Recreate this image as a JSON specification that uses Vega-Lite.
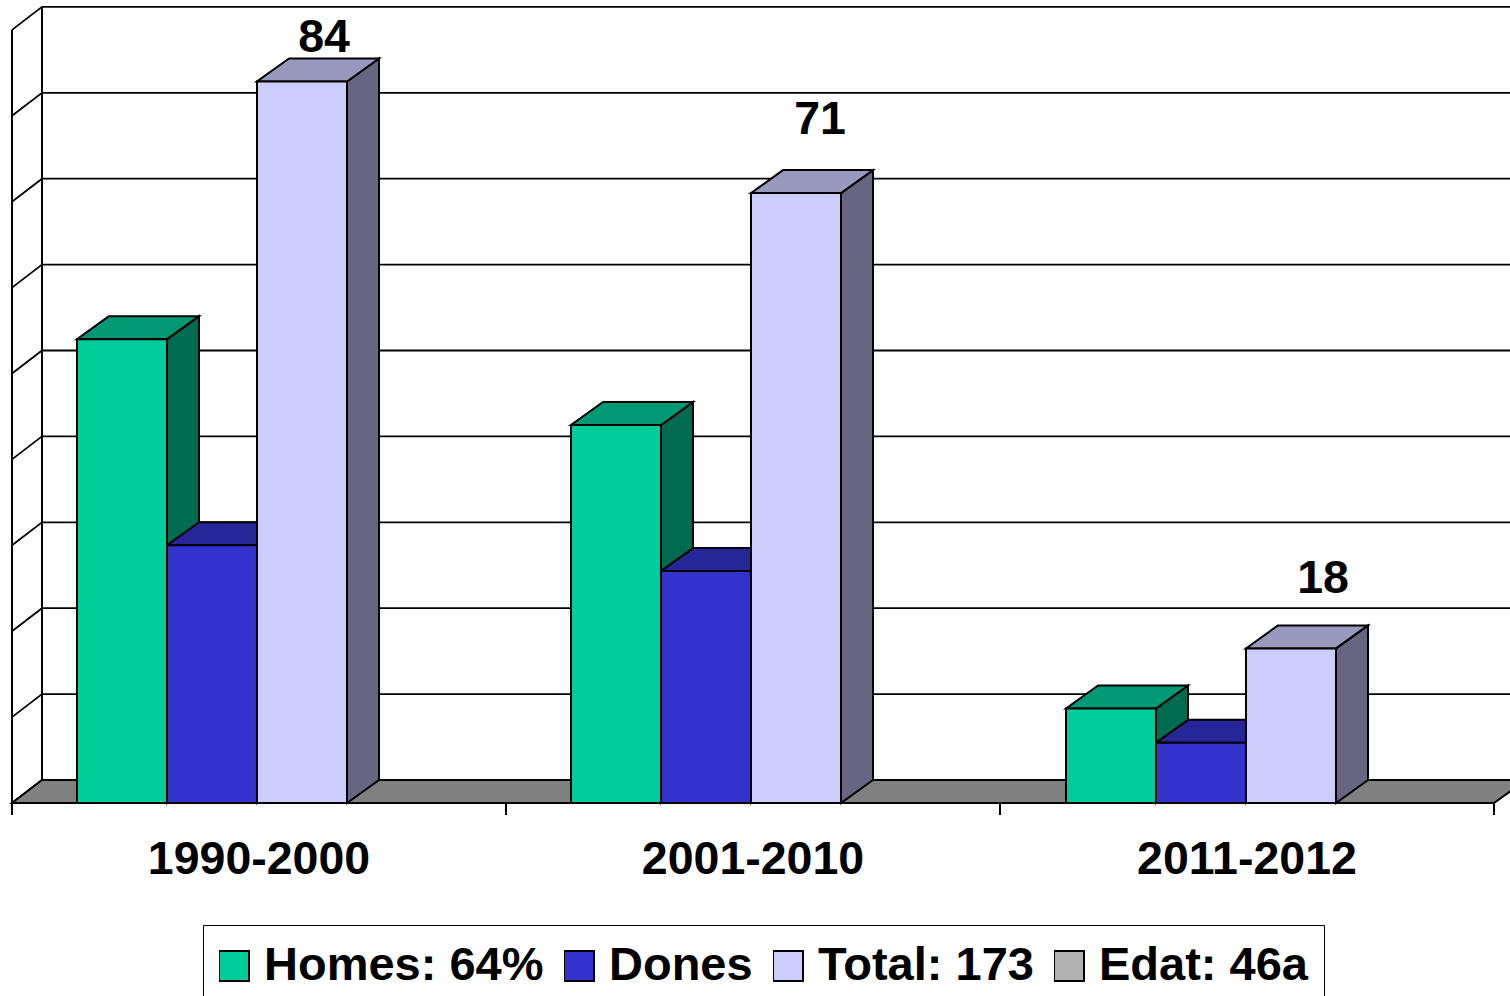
{
"$schema":"https://vega.github.io/schema/vega-lite/v6.json",
"width":1510,"height":996,"padding":0,"autosize":{"type":"none"},
"background":"white",
"view":{"stroke":null},
"config":{"font":"Liberation Sans"},
"datasets":{
"grid":[{"v":0},{"v":10},{"v":20},{"v":30},{"v":40},{"v":50},{"v":60},{"v":70},{"v":80},{"v":90}]
},
"data":{"values":[
{"period":"1990-2000","series":"Homes: 64%","value":54},
{"period":"1990-2000","series":"Dones","value":30},
{"period":"1990-2000","series":"Total: 173","value":84},
{"period":"2001-2010","series":"Homes: 64%","value":44},
{"period":"2001-2010","series":"Dones","value":27},
{"period":"2001-2010","series":"Total: 173","value":71},
{"period":"2011-2012","series":"Homes: 64%","value":11},
{"period":"2011-2012","series":"Dones","value":7},
{"period":"2011-2012","series":"Total: 173","value":18}
]},
"transform":[
{"calculate":"indexof(['1990-2000','2001-2010','2011-2012'],datum.period)","as":"pi"},
{"calculate":"indexof(['Homes: 64%','Dones','Total: 173'],datum.series)","as":"si"},
{"calculate":"datum.pi+(65+90*datum.si+(datum.pi==2?1:0))/494","as":"xl"},
{"calculate":"datum.xl+90/494","as":"xr"}
],
"layer":[
{"data":{"name":"grid"},
 "transform":[{"calculate":"[0,1,2]","as":"k"},{"flatten":["k"]},
  {"calculate":"datum.k==0?0:(datum.k==1?30/494:3.2)","as":"gx"},
  {"calculate":"datum.v+(datum.k>0?2.678:0)","as":"gy"}],
 "mark":{"type":"line","stroke":"black","strokeWidth":1.8,"clip":true},
 "encoding":{
  "x":{"field":"gx","type":"quantitative","scale":{"domain":[-0.02429,3.03239],"nice":false,"zero":false},"axis":null},
  "y":{"field":"gy","type":"quantitative","axis":null,"scale":{"domain":[-22.468,93.481],"nice":false,"zero":false}},
  "detail":{"field":"v"}}},
{"data":{"name":"grid"},
 "transform":[{"filter":"datum.v==0"},{"calculate":"[0,1]","as":"k"},{"flatten":["k"]},
  {"calculate":"datum.k*30/494","as":"fx"},{"calculate":"3+datum.k*32/494","as":"fx2"},{"calculate":"datum.k*2.678","as":"fy"}],
 "mark":{"type":"area","orient":"horizontal","fill":"#808080","stroke":"black","strokeWidth":2,"clip":true},
 "encoding":{
  "x":{"field":"fx","type":"quantitative","axis":null},
  "x2":{"field":"fx2"},
  "y":{"field":"fy","type":"quantitative","axis":null}}},
{"data":{"name":"grid"},
 "transform":[{"filter":"datum.v==0"},{"calculate":"[0,1]","as":"k"},{"flatten":["k"]},
  {"calculate":"datum.k*30/494","as":"wx"},{"calculate":"datum.k*2.678","as":"wy"},{"calculate":"datum.wy+90","as":"wy2"}],
 "mark":{"type":"rule","stroke":"black","strokeWidth":2},
 "encoding":{
  "x":{"field":"wx","type":"quantitative","axis":null},
  "y":{"field":"wy","type":"quantitative","axis":null},
  "y2":{"field":"wy2"}}},
{"transform":[{"calculate":"[0,1]","as":"k"},{"flatten":["k"]},
  {"calculate":"datum.xr+datum.k*32/494","as":"sx"},
  {"calculate":"datum.value+datum.k*2.678","as":"sy"},
  {"calculate":"datum.k*2.678","as":"sy2"}],
 "mark":{"type":"area","orient":"vertical","stroke":"black","strokeWidth":2},
 "encoding":{
  "x":{"field":"sx","type":"quantitative","axis":null},
  "y":{"field":"sy","type":"quantitative","axis":null},
  "y2":{"field":"sy2"},
  "detail":{"field":"period"},
  "fill":{"field":"series","type":"nominal","legend":null,"scale":{"domain":["Homes: 64%","Dones","Total: 173"],"range":["#006B50","#1F1F7A","#666680"]}}}},
{"transform":[{"calculate":"[0,1]","as":"k"},{"flatten":["k"]},
  {"calculate":"datum.xl+datum.k*32/494","as":"tx"},
  {"calculate":"datum.xr+datum.k*32/494","as":"tx2"},
  {"calculate":"datum.value+datum.k*2.678","as":"ty"}],
 "mark":{"type":"area","orient":"horizontal","stroke":"black","strokeWidth":2},
 "encoding":{
  "x":{"field":"tx","type":"quantitative","axis":null},
  "x2":{"field":"tx2"},
  "y":{"field":"ty","type":"quantitative","axis":null},
  "detail":{"field":"period"},
  "fill":{"field":"series","type":"nominal","legend":null,"scale":{"domain":["Homes: 64%","Dones","Total: 173"],"range":["#009973","#262699","#9999C0"]}}}},
{"mark":{"type":"rect","stroke":"black","strokeWidth":2},
 "encoding":{
  "x":{"field":"xl","type":"quantitative","axis":null},
  "x2":{"field":"xr"},
  "y":{"field":"value","type":"quantitative","axis":null},
  "y2":{"datum":0},
  "fill":{"field":"series","type":"nominal","scale":{"domain":["Homes: 64%","Dones","Total: 173","Edat: 46a"],"range":["#00CC99","#3333CC","#CCCCFF","#B2B2B2"]},
   "legend":{"title":null,"orient":"none","legendX":203,"legendY":925,"direction":"horizontal","columns":4,"symbolType":"square","symbolSize":900,"symbolOffset":-8.5,"symbolStrokeColor":"black","symbolStrokeWidth":2,"symbolOpacity":1,"labelFont":"Liberation Sans","labelFontWeight":"bold","labelFontSize":47,"labelColor":"black","labelOffset":6.5,"labelLimit":400,"columnPadding":20,"padding":16,"strokeColor":"black","fillColor":"white","clipHeight":50}}}},
{"transform":[{"filter":"datum.si==2"},
  {"calculate":"datum.xr+[22,24,32][datum.pi]/494-45/494","as":"lx"},
  {"calculate":"datum.value+[5.05,8.51,8.07][datum.pi]","as":"ly"}],
 "mark":{"type":"text","font":"Liberation Sans","fontWeight":"bold","fontSize":46.5,"color":"black","baseline":"middle","align":"center"},
 "encoding":{
  "x":{"field":"lx","type":"quantitative","axis":null},
  "y":{"field":"ly","type":"quantitative","axis":null},
  "text":{"field":"value","type":"quantitative"}}},
{"data":{"values":[{"tick":0.5},{"tick":1.5},{"tick":2.5}]},
 "transform":[{"calculate":"['1990-2000','2001-2010','2011-2012'][floor(datum.tick)]","as":"lab"}],
 "mark":{"type":"text","font":"Liberation Sans","fontWeight":"bold","fontSize":46.5,"color":"black","baseline":"middle","align":"center"},
 "encoding":{
  "x":{"field":"tick","type":"quantitative","axis":null},
  "y":{"datum":-6.6},
  "text":{"field":"lab"}}},
{"data":{"values":[{"tick":0},{"tick":1},{"tick":2},{"tick":3}]},
 "mark":{"type":"rule","stroke":"black","strokeWidth":2},
 "encoding":{
  "x":{"field":"tick","type":"quantitative","axis":null},
  "y":{"datum":0},
  "y2":{"datum":-1.4}}}
],
"resolve":{"scale":{"fill":"independent"}}
}
